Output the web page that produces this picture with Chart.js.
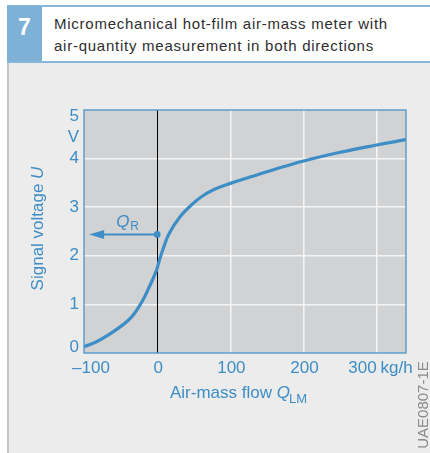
<!DOCTYPE html>
<html>
<head>
<meta charset="utf-8">
<script src="https://cdn.jsdelivr.net/npm/chart.js@4"></script>
<style>
  html, body { margin: 0; padding: 0; background: #fff; }
  #page { position: relative; width: 430px; height: 453px; overflow: hidden; font-family: "Liberation Sans", Arial, sans-serif; }
  #topline { position: absolute; left: 7px; top: 5px; width: 423px; height: 2px; background: #86b7da; }
  #num { position: absolute; left: 7px; top: 6px; width: 35px; height: 55px; background: #7db1d6; color: #fff; font-weight: bold; font-size: 23px; text-align: center; line-height: 42px; }
  #title { position: absolute; left: 54px; top: 13px; font-size: 15px; line-height: 22px; letter-spacing: 0.75px; color: #2e2e2e; }
  #botline { position: absolute; left: 7px; top: 61px; width: 423px; height: 2px; background: #86b7da; }
  #panel { position: absolute; left: 7px; top: 63px; width: 423px; height: 390px; background: #ebeceb; border-left: 2px solid #c4c6c5; box-sizing: border-box; }
  #chartBox { position: absolute; left: 0; top: 0; width: 430px; height: 453px; }
</style>
</head>
<body>
<div id="page">
  <div id="panel"></div>
  <div id="topline"></div>
  <div id="botline"></div>
  <div id="num">7</div>
  <div id="title">Micromechanical hot-film air-mass meter with<br>air-quantity measurement in both directions</div>
  <div id="chartBox"><canvas id="chart" width="430" height="453"></canvas></div>
</div>
<script>
// curve: air-mass flow (kg/h) vs signal voltage (V)
const flow    = [-100, -78, -39, -21, -9, -1, 3, 9, 16, 31, 50, 63, 77, 100, 127, 150, 200, 250, 300, 340];
const voltage = [0.13, 0.27, 0.68, 1.05, 1.42, 1.70, 1.91, 2.18, 2.45, 2.80, 3.09, 3.24, 3.36, 3.49, 3.62, 3.73, 3.95, 4.13, 4.28, 4.39];

const xTicks = [-100, 0, 100, 200, 300];
const xTickLabels = ['\u2013100', '0', '100', '200', '300'];
const yTicks = [0, 1, 2, 3, 4, 5];
const yTickLabels = ['0', '1', '2', '3', '4', '5'];

// return-flow marker Q_R
const qrFlow = 0;
const qrVoltage = 2.44;
const qrArrowTip = -93;

const BLUE = '#3d8dc6';
const FONT = '"Liberation Sans", Arial, sans-serif';

const decor = {
  id: 'decor',
  beforeDatasetsDraw(chart) {
    const ctx = chart.ctx, x = chart.scales.x;
    const a = chart.chartArea;
    ctx.save();
    // zero line
    ctx.strokeStyle = '#000';
    ctx.lineWidth = 1;
    const x0 = Math.round(x.getPixelForValue(0)) + 0.5;
    ctx.beginPath(); ctx.moveTo(x0, a.top); ctx.lineTo(x0, a.bottom); ctx.stroke();
    ctx.restore();
  },
  afterDatasetsDraw(chart) {
    const ctx = chart.ctx, x = chart.scales.x, y = chart.scales.y;
    const a = chart.chartArea;
    ctx.save();
    // frame
    ctx.strokeStyle = '#4b94c8';
    ctx.lineWidth = 1.3;
    ctx.strokeRect(a.left, a.top, a.right - a.left, a.bottom - a.top);

    // Q_R arrow
    const px = x.getPixelForValue(qrFlow), py = y.getPixelForValue(qrVoltage);
    const tip = x.getPixelForValue(qrArrowTip);
    ctx.strokeStyle = BLUE; ctx.fillStyle = BLUE;
    ctx.lineWidth = 2;
    ctx.beginPath(); ctx.moveTo(px, py); ctx.lineTo(tip + 12, py); ctx.stroke();
    ctx.beginPath(); ctx.moveTo(tip, py); ctx.lineTo(tip + 15, py - 4.5); ctx.lineTo(tip + 15, py + 4.5); ctx.closePath(); ctx.fill();
    ctx.beginPath(); ctx.arc(px, py, 3.4, 0, Math.PI * 2); ctx.fill();
    ctx.textBaseline = 'alphabetic'; ctx.textAlign = 'left';
    ctx.font = 'italic 17px ' + FONT;
    ctx.fillText('Q', px - 41, py - 7);
    ctx.font = '12px ' + FONT;
    ctx.fillText('R', px - 27, py - 4);

    // tick labels
    ctx.font = '17px ' + FONT;
    ctx.textBaseline = 'alphabetic';
    xTicks.forEach((v, i) => {
      const p = x.getPixelForValue(v);
      if (i === 0) { ctx.textAlign = 'center'; ctx.fillText(xTickLabels[i], p + 7, a.bottom + 20); }
      else if (i === xTicks.length - 1) {
        ctx.textAlign = 'right'; ctx.fillText(xTickLabels[i], p, a.bottom + 20);
        ctx.textAlign = 'left'; ctx.fillText(' kg/h', p - 1, a.bottom + 20);
      } else { ctx.textAlign = 'center'; ctx.fillText(xTickLabels[i], p + 1, a.bottom + 20); }
    });
    ctx.textAlign = 'right'; ctx.textBaseline = 'middle';
    yTicks.forEach((v, i) => {
      let p = y.getPixelForValue(v);
      if (i === 0) p -= 6;
      if (i === yTicks.length - 1) p += 6;
      ctx.fillText(yTickLabels[i], a.left - 5, p);
    });
    ctx.fillText('V', a.left - 5, (y.getPixelForValue(4) + y.getPixelForValue(5)) / 2 + 3);

    // x axis title
    ctx.textAlign = 'left'; ctx.textBaseline = 'alphabetic';
    let tx = 170; const ty = a.bottom + 45;
    ctx.font = '17px ' + FONT;
    ctx.fillText('Air-mass flow ', tx, ty); tx += ctx.measureText('Air-mass flow ').width;
    ctx.font = 'italic 17px ' + FONT;
    ctx.fillText('Q', tx, ty); tx += ctx.measureText('Q').width - 1;
    ctx.font = '13px ' + FONT;
    ctx.fillText('LM', tx, ty + 5);

    // y axis title (rotated)
    ctx.save();
    ctx.translate(43, (a.top + a.bottom) / 2 - 3);
    ctx.rotate(-Math.PI / 2);
    ctx.font = '17px ' + FONT;
    const s1 = 'Signal voltage ';
    const w1 = ctx.measureText(s1).width;
    ctx.font = 'italic 17px ' + FONT;
    const w2 = ctx.measureText('U').width;
    const sx = -(w1 + w2) / 2;
    ctx.font = '17px ' + FONT;
    ctx.fillText(s1, sx, 0);
    ctx.font = 'italic 17px ' + FONT;
    ctx.fillText('U', sx + w1, 0);
    ctx.restore();

    // figure code
    ctx.save();
    ctx.translate(428, 405);
    ctx.rotate(-Math.PI / 2);
    ctx.textAlign = 'center';
    ctx.fillStyle = '#8a8c8c';
    ctx.font = '15px ' + FONT;
    ctx.fillText('UAE0807-1E', 0, 0);
    ctx.restore();
    ctx.restore();
  }
};

const plotBg = {
  id: 'plotBg',
  beforeDraw(chart) {
    const a = chart.chartArea, ctx = chart.ctx;
    ctx.save();
    ctx.fillStyle = '#d1d2d4';
    ctx.fillRect(a.left, a.top, a.right - a.left, a.bottom - a.top);
    ctx.restore();
  }
};

new Chart(document.getElementById('chart'), {
  type: 'line',
  data: {
    datasets: [{
      data: flow.map((f, i) => ({ x: f, y: voltage[i] })),
      borderColor: BLUE,
      borderWidth: 3.2,
      pointRadius: 0,
      tension: 0.4,
      fill: false
    }]
  },
  options: {
    responsive: false,
    animation: false,
    layout: { padding: { left: 84, top: 110, right: 24, bottom: 100 } },
    plugins: { legend: { display: false }, tooltip: { enabled: false } },
    scales: {
      x: {
        type: 'linear', min: -100, max: 340,
        afterBuildTicks: s => { s.ticks = xTicks.map(v => ({ value: v })); },
        ticks: { display: false },
        border: { display: false },
        grid: {
          drawTicks: false,
          lineWidth: 1.6,
          color: c => (c.tick && (c.tick.value === 0 || c.tick.value === -100)) ? 'rgba(0,0,0,0)' : '#f4f4f4'
        }
      },
      y: {
        type: 'linear', min: 0, max: 5,
        afterBuildTicks: s => { s.ticks = yTicks.map(v => ({ value: v })); },
        ticks: { display: false },
        border: { display: false },
        grid: {
          drawTicks: false,
          lineWidth: 1.6,
          color: c => (c.tick && (c.tick.value === 0 || c.tick.value === 5)) ? 'rgba(0,0,0,0)' : '#f4f4f4'
        }
      }
    }
  },
  plugins: [plotBg, decor]
});
</script>
</body>
</html>
